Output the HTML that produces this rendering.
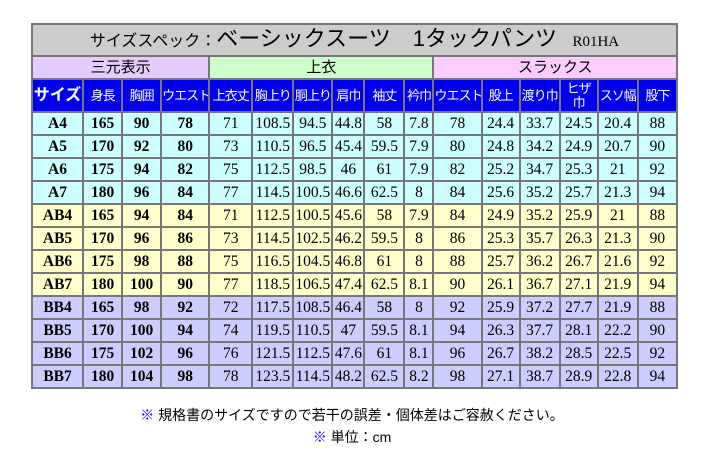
<!DOCTYPE html>
<html><head><meta charset="utf-8"><style>
body{margin:0;width:704px;height:462px;background:#fff;position:relative;overflow:hidden}
table{position:absolute;left:31px;top:23px;border-collapse:separate;border-spacing:2px;background:#777;table-layout:fixed;width:647px}
td{padding:0;text-align:center;font-family:"Liberation Serif","Noto Serif CJK SC",serif;font-size:15.5px;height:21px;line-height:21px;overflow:hidden;white-space:nowrap}
td.b{font-weight:bold}
.title td{height:30px;background:#ccc;font-family:"Liberation Sans","Noto Sans CJK JP",sans-serif}
.grp td{height:21px;font-family:"Liberation Sans","Noto Sans CJK JP",sans-serif;font-size:15px}
.hdr td{height:31px;background:#0000ee;color:#fff;font-family:"Liberation Sans","Noto Sans CJK JP",sans-serif;font-size:13px;letter-spacing:-1px;line-height:14px}
.A td{background:#ccffff}.AB td{background:#ffffcc}.BB td{background:#ccccff}
.note{position:absolute;left:0;width:704px;text-align:center;font-family:"Liberation Sans","Noto Sans CJK JP",sans-serif;font-size:14px}
.note span{color:#00f}
</style></head><body>
<table>
<colgroup><col style="width:49px"><col style="width:37px"><col style="width:37px"><col style="width:46px"><col style="width:41px"><col style="width:39px"><col style="width:37px"><col style="width:30px"><col style="width:38px"><col style="width:27px"><col style="width:46px"><col style="width:36px"><col style="width:38px"><col style="width:36px"><col style="width:38px"><col style="width:37px"></colgroup>
<tr class="title"><td colspan="16"><span style="font-size:16px">サイズスペック：</span><span style="font-size:22px">ベーシックスーツ　1タックパンツ</span>　<span style="font-family:'Liberation Serif',serif;font-size:15px">R01HA</span></td></tr>
<tr class="grp"><td colspan="4" style="background:#e5ccff">三元表示</td><td colspan="6" style="background:#ccffcc">上衣</td><td colspan="6" style="background:#ffccff">スラックス</td></tr>
<tr class="hdr"><td style="font-weight:bold;font-size:16px;letter-spacing:0">サイズ</td><td>身長</td><td>胸囲</td><td>ウエスト</td><td>上衣丈</td><td>胸上り</td><td>胴上り</td><td>肩巾</td><td>袖丈</td><td>衿巾</td><td>ウエスト</td><td>股上</td><td>渡り巾</td><td>ヒザ<br>巾</td><td>スソ幅</td><td>股下</td></tr>
<tbody id="body"></tbody>
</table>
<div class="note" style="top:405px"><span>※</span> 規格書のサイズですので若干の誤差・個体差はご容赦ください。</div>
<div class="note" style="top:427px"><span>※</span> 単位：cm</div>
<script>
const sizes=["A4","A5","A6","A7","AB4","AB5","AB6","AB7","BB4","BB5","BB6","BB7"];
const rows=[
[165,90,78,71,108.5,94.5,44.8,58,7.8,78,24.4,33.7,24.5,20.4,88],
[170,92,80,73,110.5,96.5,45.4,59.5,7.9,80,24.8,34.2,24.9,20.7,90],
[175,94,82,75,112.5,98.5,46,61,7.9,82,25.2,34.7,25.3,21,92],
[180,96,84,77,114.5,100.5,46.6,62.5,8,84,25.6,35.2,25.7,21.3,94],
[165,94,84,71,112.5,100.5,45.6,58,7.9,84,24.9,35.2,25.9,21,88],
[170,96,86,73,114.5,102.5,46.2,59.5,8,86,25.3,35.7,26.3,21.3,90],
[175,98,88,75,116.5,104.5,46.8,61,8,88,25.7,36.2,26.7,21.6,92],
[180,100,90,77,118.5,106.5,47.4,62.5,8.1,90,26.1,36.7,27.1,21.9,94],
[165,98,92,72,117.5,108.5,46.4,58,8,92,25.9,37.2,27.7,21.9,88],
[170,100,94,74,119.5,110.5,47,59.5,8.1,94,26.3,37.7,28.1,22.2,90],
[175,102,96,76,121.5,112.5,47.6,61,8.1,96,26.7,38.2,28.5,22.5,92],
[180,104,98,78,123.5,114.5,48.2,62.5,8.2,98,27.1,38.7,28.9,22.8,94]];
const tb=document.getElementById('body');
sizes.forEach((s,i)=>{
 const tr=document.createElement('tr');
 tr.className=s.startsWith('BB')?'BB':s.startsWith('AB')?'AB':'A';
 
 
 const c=document.createElement('td');c.className='b';c.textContent=s;tr.appendChild(c);
 rows[i].forEach((v,j)=>{const td=document.createElement('td');if(j<3)td.className='b';td.textContent=v;tr.appendChild(td);});
 tb.appendChild(tr);
});
</script>
</body></html>
